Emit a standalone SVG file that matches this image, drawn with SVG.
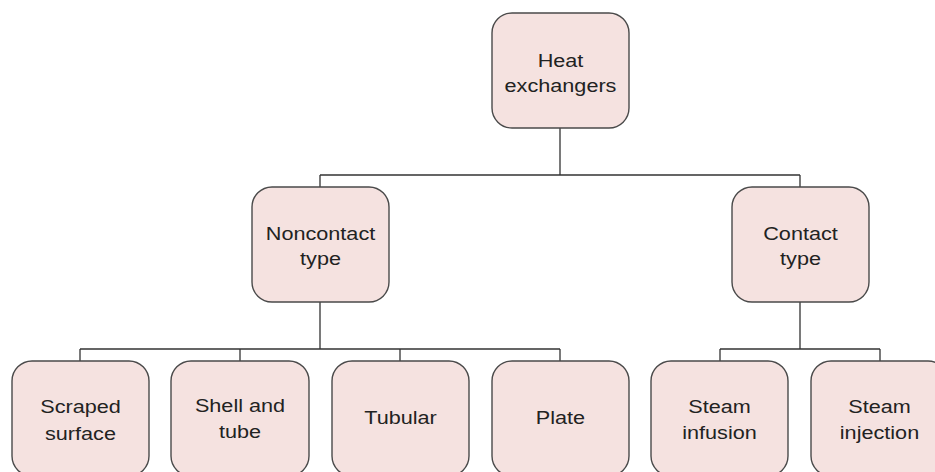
<svg xmlns="http://www.w3.org/2000/svg" width="935" height="472" viewBox="0 0 935 472">
<style>
.box{fill:#f5e2e0;stroke:#4a4a4a;stroke-width:1.4}
.lbl{font-family:"Liberation Sans",Arial,sans-serif;font-size:18.5px;fill:#222;text-anchor:middle}
.con{fill:none;stroke:#333;stroke-width:1.3}
</style>
<rect width="935" height="472" fill="#fff"/>
<g id="connectors">
<path class="con" d="M560 128V175M320 175H800M320 175V187M800 175V187"/>
<path class="con" d="M320 302V349M80 349H560M80 349V361M240 349V361M400 349V361M560 349V361"/>
<path class="con" d="M800 302V349M720 349H880M720 349V361M880 349V361"/>
</g>
<g id="heat-exchangers">
<rect class="box" x="492" y="13" width="137" height="115" rx="20"/>
<text class="lbl" transform="translate(560.5,67) scale(1.17,1)">Heat</text>
<text class="lbl" transform="translate(560.5,92) scale(1.17,1)">exchangers</text>
</g>
<g id="noncontact">
<rect class="box" x="252" y="187" width="137" height="115" rx="20"/>
<text class="lbl" transform="translate(320.5,240) scale(1.17,1)">Noncontact</text>
<text class="lbl" transform="translate(320.5,265) scale(1.17,1)">type</text>
</g>
<g id="contact">
<rect class="box" x="732" y="187" width="137" height="115" rx="20"/>
<text class="lbl" transform="translate(800.5,240) scale(1.17,1)">Contact</text>
<text class="lbl" transform="translate(800.5,265) scale(1.17,1)">type</text>
</g>
<g id="scraped">
<rect class="box" x="12" y="361" width="137" height="115" rx="20"/>
<text class="lbl" transform="translate(80.5,413) scale(1.17,1)">Scraped</text>
<text class="lbl" transform="translate(80.5,440) scale(1.17,1)">surface</text>
</g>
<g id="shell">
<rect class="box" x="171" y="361" width="138" height="115" rx="20"/>
<text class="lbl" transform="translate(240,412) scale(1.17,1)">Shell and</text>
<text class="lbl" transform="translate(240,438) scale(1.17,1)">tube</text>
</g>
<g id="tubular">
<rect class="box" x="332" y="361" width="137" height="115" rx="20"/>
<text class="lbl" transform="translate(400.5,424) scale(1.17,1)">Tubular</text>
</g>
<g id="plate">
<rect class="box" x="492" y="361" width="137" height="115" rx="20"/>
<text class="lbl" transform="translate(560.5,424) scale(1.17,1)">Plate</text>
</g>
<g id="infusion">
<rect class="box" x="651" y="361" width="137" height="115" rx="20"/>
<text class="lbl" transform="translate(719.5,413) scale(1.17,1)">Steam</text>
<text class="lbl" transform="translate(719.5,439) scale(1.17,1)">infusion</text>
</g>
<g id="injection">
<rect class="box" x="811" y="361" width="137" height="115" rx="20"/>
<text class="lbl" transform="translate(879.5,413) scale(1.17,1)">Steam</text>
<text class="lbl" transform="translate(879.5,439) scale(1.17,1)">injection</text>
</g>
</svg>
